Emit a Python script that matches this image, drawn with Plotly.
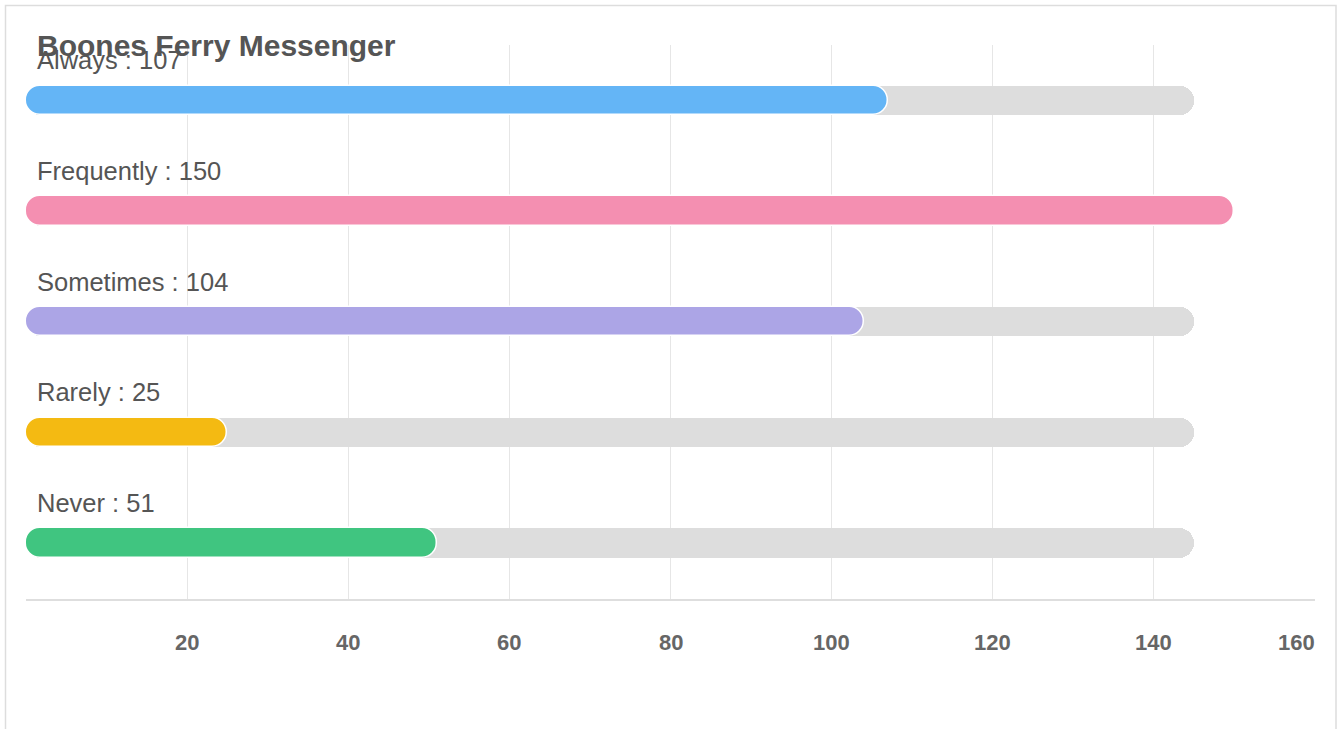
import plotly.graph_objects as go

categories = ["Always", "Frequently", "Sometimes", "Rarely", "Never"]
values = [107, 150, 104, 25, 51]
colors = ["#64b5f6", "#f48fb1", "#aca5e6", "#f4ba12", "#40c580"]
track_max = 145
tick_values = [20, 40, 60, 80, 100, 120, 140, 160]
title_text = "Boones Ferry Messenger"

FONT = "Liberation Sans, Arial, sans-serif"
BAR_W = 0.265

fig = go.Figure()

# grey track
fig.add_trace(go.Bar(y=categories, x=[track_max] * 5, base=[0] * 5,
                     orientation="h", width=BAR_W,
                     marker=dict(color="#dddddd", cornerradius="50%", line=dict(width=0)),
                     hoverinfo="skip", showlegend=False))

# coloured value bars
fig.add_trace(go.Bar(y=categories, x=values, base=[0] * 5,
                     orientation="h", width=BAR_W,
                     marker=dict(color=colors, cornerradius="50%", line=dict(color="white", width=1.5)),
                     showlegend=False))

annotations = []
for c, v in zip(categories, values):
    annotations.append(dict(x=0, y=c, xref="x", yref="y", text=f"{c} : {v}",
                            showarrow=False, xanchor="left", yanchor="middle",
                            xshift=9, yshift=40,
                            font=dict(family=FONT, size=25.5, color="#555555")))
for t in tick_values:
    annotations.append(dict(x=t, y=0, xref="x", yref="paper", text=f"<b>{t}</b>",
                            showarrow=False, xanchor="right" if t == tick_values[-1] else "center",
                            yanchor="middle", yshift=-43,
                            xshift=2 if t == tick_values[-1] else 0,
                            font=dict(family=FONT, size=22, color="#666666")))

fig.update_layout(
    width=1340, height=729,
    margin=dict(l=26, r=25, t=45, b=130),
    paper_bgcolor="white", plot_bgcolor="white",
    barmode="overlay", bargap=0,
    title=dict(text=f"<b>{title_text}</b>", x=37 / 1340, xanchor="left", xref="container",
               y=1 - 45 / 729, yanchor="middle", yref="container",
               font=dict(family=FONT, size=30, color="#555555")),
    xaxis=dict(range=[0, 160], tickvals=[0] + tick_values, showticklabels=False,
               showgrid=True, gridcolor="#e6e6e6", gridwidth=1, zeroline=False,
               showline=True, linecolor="#dedede", linewidth=2, mirror=False, ticks=""),
    yaxis=dict(categoryorder="array", categoryarray=categories, autorange="reversed",
               showticklabels=False, showgrid=False, zeroline=False, ticks=""),
    annotations=annotations,
    shapes=[dict(type="rect", xref="paper", yref="paper",
                 x0=(5.5 - 26) / 1289, x1=(1336 - 26) / 1289,
                 y0=-(740 - 599) / 554, y1=1 + (45 - 5.5) / 554,
                 line=dict(color="#dddddd", width=1.5), layer="below")],
)

fig.write_html("out.html", config={"displayModeBar": False},
               post_script="document.body.style.margin='0';document.body.style.overflow='hidden';")
